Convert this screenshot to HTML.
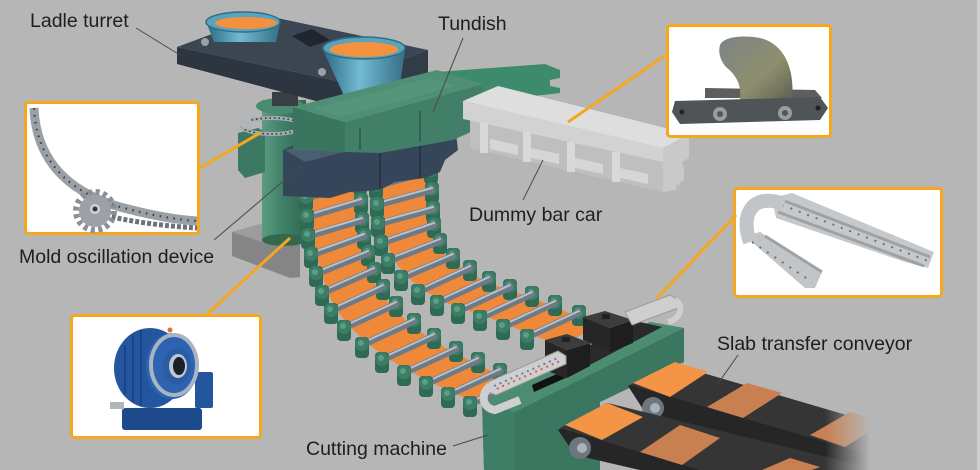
<!DOCTYPE html>
<html><head><meta charset="utf-8">
<style>
html,body{margin:0;padding:0;background:#b6b6b6;width:980px;height:470px;overflow:hidden;}
svg{display:block;overflow:hidden;}
text{font-family:"Liberation Sans",sans-serif;font-size:19.5px;fill:#1e1e1e;}
.r{stroke:#6e7a86;stroke-width:7;stroke-linecap:round;}
.h{stroke:#b8c2cc;stroke-width:2;stroke-linecap:round;}
.ld{stroke:#4a4a4a;stroke-width:1;fill:none;}
.oc{stroke:#f5a81f;stroke-width:3;fill:none;}
.bx{stroke:#f5a81f;stroke-width:3;fill:#ffffff;}
</style></head><body>
<svg width="980" height="470" viewBox="0 0 980 470" xmlns="http://www.w3.org/2000/svg">
<defs>
<linearGradient id="lg" x1="0" y1="0" x2="1" y2="0"><stop offset="0" stop-color="#2c6a83"/><stop offset=".45" stop-color="#72bad2"/><stop offset="1" stop-color="#356f86"/></linearGradient>
<linearGradient id="cg" x1="0" y1="0" x2="1" y2="0"><stop offset="0" stop-color="#5a9c82"/><stop offset=".5" stop-color="#3f7e66"/><stop offset="1" stop-color="#33684f"/></linearGradient>
<linearGradient id="fd" x1="0" y1="0" x2="1" y2="0"><stop offset="0" stop-color="#b6b6b6" stop-opacity="0"/><stop offset="1" stop-color="#b6b6b6"/></linearGradient>
<linearGradient id="fin" x1="0" y1="0" x2="1" y2="1"><stop offset="0" stop-color="#7d8386"/><stop offset=".6" stop-color="#8e8f6e"/><stop offset="1" stop-color="#5d6052"/></linearGradient>
<g id="b"><rect x="-7" y="-8" width="14" height="21" rx="4" fill="#2f6a55"/><circle cx="0" cy="-1" r="7" fill="#3d7d65"/><circle cx="-1" cy="-2" r="3" fill="#5a9e84"/></g>
</defs>
<rect width="980" height="470" fill="#b6b6b6"/>
<rect x="977" y="0" width="3" height="470" fill="#cdcdcd"/>

<!-- green arm -->
<polygon points="437,72 545,64 560,70 560,78 550,80 550,86 560,88 560,93 482,102 482,84" fill="#3e8a6c"/>

<!-- base slab -->
<polygon points="232,232 268,222 300,232 300,277 290,278 232,256" fill="#858585"/>
<polygon points="232,232 268,222 300,232 262,242" fill="#9c9c9c"/>

<!-- column -->
<rect x="262" y="100" width="44" height="140" fill="url(#cg)"/>
<ellipse cx="284" cy="240" rx="22" ry="6" fill="#33684f"/>
<polygon points="238,133 258,128 265,132 265,172 245,178 238,170" fill="#3c7862"/>
<ellipse cx="280" cy="106" rx="24" ry="8" fill="#4a8a70"/>
<rect x="272" y="92" width="26" height="14" fill="#3a3f45"/>
<ellipse cx="272" cy="126" rx="30" ry="8" fill="none" stroke="#a3a9ae" stroke-width="4"/>
<ellipse cx="272" cy="126" rx="30" ry="8" fill="none" stroke="#333" stroke-width="1.5" stroke-dasharray="1.5 3"/>
<circle cx="246" cy="123" r="6" fill="#b0b5ba"/>

<!-- ladle turret block -->
<polygon points="177,47 342,82 342,108 177,64" fill="#2c3540"/>
<polygon points="342,82 428,50 428,76 342,108" fill="#323c47"/>
<polygon points="177,47 263,15 428,50 342,82" fill="#3b4652"/>
<polygon points="292,36 312,29 330,40 310,47" fill="#1f262d"/>
<circle cx="205" cy="42" r="4" fill="#9aa0a6"/>
<circle cx="322" cy="72" r="4" fill="#9aa0a6"/>
<!-- ladle 1 -->
<path d="M207,24 L214,42 L276,42 L280,24 Z" fill="url(#lg)"/>
<ellipse cx="243" cy="22" rx="37" ry="10" fill="#5aa3bd" stroke="#2f6f88" stroke-width="1.5"/>
<ellipse cx="246" cy="23" rx="31" ry="6" fill="#f5913e"/>
<!-- ladle 2 -->
<path d="M323,50 L345,98 L398,98 L405,50 Z" fill="url(#lg)"/>
<ellipse cx="364" cy="48" rx="41" ry="11" fill="#5aa3bd" stroke="#2f6f88" stroke-width="1.5"/>
<ellipse cx="364" cy="49.5" rx="34" ry="7.5" fill="#f5913e"/>

<!-- strand B slab -->
<polygon points="381,172 381,184 382,203 383,222 386,241 393,259 406,276 423,290 442,301 463,309 485,316 508,325 532,335 560,345 600,326 574,315 550,305 527,296 505,289 484,281 465,270 448,258 435,243 429,226 427,210 426,191 425,172 425,160" fill="#f0883a"/>
<g>
<use href="#b" x="431" y="171"/><line class="r" x1="376" y1="186" x2="431" y2="171"/><line class="h" x1="376" y1="184" x2="431" y2="169"/><use href="#b" x="376" y="186"/>
<use href="#b" x="432" y="190"/><line class="r" x1="377" y1="205" x2="432" y2="190"/><line class="h" x1="377" y1="203" x2="432" y2="188"/><use href="#b" x="377" y="205"/>
<use href="#b" x="433" y="209"/><line class="r" x1="378" y1="224" x2="433" y2="209"/><line class="h" x1="378" y1="222" x2="433" y2="207"/><use href="#b" x="378" y="224"/>
<use href="#b" x="434" y="225"/><line class="r" x1="381" y1="243" x2="434" y2="225"/><line class="h" x1="381" y1="241" x2="434" y2="223"/><use href="#b" x="381" y="243"/>
<use href="#b" x="440" y="241"/><line class="r" x1="388" y1="261" x2="440" y2="241"/><line class="h" x1="388" y1="259" x2="440" y2="239"/><use href="#b" x="388" y="261"/>
<use href="#b" x="453" y="256"/><line class="r" x1="401" y1="278" x2="453" y2="256"/><line class="h" x1="401" y1="276" x2="453" y2="254"/><use href="#b" x="401" y="278"/>
<use href="#b" x="470" y="268"/><line class="r" x1="418" y1="292" x2="470" y2="268"/><line class="h" x1="418" y1="290" x2="470" y2="266"/><use href="#b" x="418" y="292"/>
<use href="#b" x="489" y="279"/><line class="r" x1="437" y1="303" x2="489" y2="279"/><line class="h" x1="437" y1="301" x2="489" y2="277"/><use href="#b" x="437" y="303"/>
<use href="#b" x="510" y="287"/><line class="r" x1="458" y1="311" x2="510" y2="287"/><line class="h" x1="458" y1="309" x2="510" y2="285"/><use href="#b" x="458" y="311"/>
<use href="#b" x="532" y="294"/><line class="r" x1="480" y1="318" x2="532" y2="294"/><line class="h" x1="480" y1="316" x2="532" y2="292"/><use href="#b" x="480" y="318"/>
<use href="#b" x="555" y="303"/><line class="r" x1="503" y1="327" x2="555" y2="303"/><line class="h" x1="503" y1="325" x2="555" y2="301"/><use href="#b" x="503" y="327"/>
<use href="#b" x="579" y="313"/><line class="r" x1="527" y1="337" x2="579" y2="313"/><line class="h" x1="527" y1="335" x2="579" y2="311"/><use href="#b" x="527" y="337"/>
</g>

<!-- strand A slab -->
<polygon points="311,186 311,196 312,215 313,234 316,253 321,272 327,291 336,309 349,326 367,343 387,358 409,371 431,382 453,393 475,402 495,410 530,385 517,382 495,373 473,362 451,351 429,338 409,323 391,306 378,289 369,272 363,255 359,238 357,222 356,203 355,184 355,172" fill="#f0883a"/>
<g>
<use href="#b" x="360" y="182"/><line class="r" x1="306" y1="198" x2="360" y2="182"/><line class="h" x1="306" y1="196" x2="360" y2="180"/><use href="#b" x="306" y="198"/>
<use href="#b" x="361" y="201"/><line class="r" x1="307" y1="217" x2="361" y2="201"/><line class="h" x1="307" y1="215" x2="361" y2="199"/><use href="#b" x="307" y="217"/>
<use href="#b" x="362" y="220"/><line class="r" x1="308" y1="236" x2="362" y2="220"/><line class="h" x1="308" y1="234" x2="362" y2="218"/><use href="#b" x="308" y="236"/>
<use href="#b" x="364" y="236"/><line class="r" x1="311" y1="255" x2="364" y2="236"/><line class="h" x1="311" y1="253" x2="364" y2="234"/><use href="#b" x="311" y="255"/>
<use href="#b" x="368" y="253"/><line class="r" x1="316" y1="274" x2="368" y2="253"/><line class="h" x1="316" y1="272" x2="368" y2="251"/><use href="#b" x="316" y="274"/>
<use href="#b" x="374" y="270"/><line class="r" x1="322" y1="293" x2="374" y2="270"/><line class="h" x1="322" y1="291" x2="374" y2="268"/><use href="#b" x="322" y="293"/>
<use href="#b" x="383" y="287"/><line class="r" x1="331" y1="311" x2="383" y2="287"/><line class="h" x1="331" y1="309" x2="383" y2="285"/><use href="#b" x="331" y="311"/>
<use href="#b" x="396" y="304"/><line class="r" x1="344" y1="328" x2="396" y2="304"/><line class="h" x1="344" y1="326" x2="396" y2="302"/><use href="#b" x="344" y="328"/>
<use href="#b" x="414" y="321"/><line class="r" x1="362" y1="345" x2="414" y2="321"/><line class="h" x1="362" y1="343" x2="414" y2="319"/><use href="#b" x="362" y="345"/>
<use href="#b" x="434" y="336"/><line class="r" x1="382" y1="360" x2="434" y2="336"/><line class="h" x1="382" y1="358" x2="434" y2="334"/><use href="#b" x="382" y="360"/>
<use href="#b" x="456" y="349"/><line class="r" x1="404" y1="373" x2="456" y2="349"/><line class="h" x1="404" y1="371" x2="456" y2="347"/><use href="#b" x="404" y="373"/>
<use href="#b" x="478" y="360"/><line class="r" x1="426" y1="384" x2="478" y2="360"/><line class="h" x1="426" y1="382" x2="478" y2="358"/><use href="#b" x="426" y="384"/>
<use href="#b" x="500" y="371"/><line class="r" x1="448" y1="395" x2="500" y2="371"/><line class="h" x1="448" y1="393" x2="500" y2="369"/><use href="#b" x="448" y="395"/>
<use href="#b" x="522" y="380"/><line class="r" x1="470" y1="404" x2="522" y2="380"/><line class="h" x1="470" y1="402" x2="522" y2="378"/><use href="#b" x="470" y="404"/>
</g>

<!-- mold -->
<polygon points="283,150 300,142 380,130 455,125 458,150 445,160 440,172 425,178 395,182 380,190 350,192 330,198 283,196" fill="#36465a"/>
<polygon points="285,150 320,141 345,152 305,162" fill="#4a5d73"/>
<line x1="380" y1="140" x2="380" y2="188" stroke="#283444" stroke-width="2"/>
<line x1="420" y1="135" x2="420" y2="178" stroke="#283444" stroke-width="2"/>

<!-- tundish -->
<polygon points="293,107 345,122 345,152 293,150" fill="#3a7560"/>
<polygon points="345,122 482,84 482,127 453,140 380,153 345,152" fill="#427f68"/>
<polygon points="293,107 437,70 482,84 345,122" fill="#4f8f76"/>
<polygon points="315,108 430,78 455,86 340,117" fill="#5a9a80" opacity=".6"/>
<line x1="360" y1="128" x2="360" y2="150" stroke="#2f6350" stroke-width="2"/>
<line x1="420" y1="111" x2="420" y2="142" stroke="#2f6350" stroke-width="2"/>

<!-- dummy bar car -->
<polygon points="470,119 663,162 680,160 680,186 663,192 470,148" fill="#bfbfbf"/>
<polygon points="463,101 663,148 663,162 463,119" fill="#d2d2d2"/>
<polygon points="463,101 498,86 689,134 663,148" fill="#dedede"/>
<polygon points="663,148 689,134 689,158 682,162 684,168 684,180 676,185 676,190 663,192" fill="#c9c9c9"/>
<rect x="480" y="123" width="8" height="30" fill="#d9d9d9"/>
<rect x="523" y="132" width="8" height="30" fill="#d9d9d9"/>
<rect x="567" y="142" width="8" height="30" fill="#d9d9d9"/>
<rect x="612" y="152" width="8" height="30" fill="#d9d9d9"/>
<polygon points="490,139 518,145 518,155 490,149" fill="#d6d6d6"/>
<polygon points="531,148 559,154 559,164 531,158" fill="#d6d6d6"/>
<polygon points="575,158 603,164 603,174 575,168" fill="#d6d6d6"/>
<polygon points="620,168 648,174 648,184 620,178" fill="#d6d6d6"/>

<!-- cutting machine -->
<polygon points="482,402 650,322 684,328 684,362 600,402 600,470 484,470" fill="#3b7760"/>
<polygon points="482,402 515,412 515,470 484,470" fill="#3f7e66"/>
<polygon points="482,402 650,322 684,328 515,412" fill="#4c8d72"/>
<polygon points="532,385 568,369 570,376 534,392" fill="#111"/>
<polygon points="540,368 640,322 662,327 565,378" fill="#2a2a2a"/>
<polygon points="583,317 610,328 610,352 583,340" fill="#262626"/>
<polygon points="610,328 633,320 633,343 610,352" fill="#1e1e1e"/>
<polygon points="583,317 605,311 633,320 610,328" fill="#3c3c3c"/>
<rect x="602" y="314" width="8" height="5" fill="#222"/>
<polygon points="545,340 567,350 567,378 545,366" fill="#262626"/>
<polygon points="567,350 590,343 590,366 567,378" fill="#1e1e1e"/>
<polygon points="545,340 567,334 590,343 567,350" fill="#3c3c3c"/>
<rect x="562" y="337" width="8" height="5" fill="#222"/>
<polygon points="488,382 558,351 566,356 566,364 496,395 488,392" fill="#cfcfcf" stroke="#9a9a9a" stroke-width="1"/>
<path d="M490,386 C480,394 482,408 495,410 L520,400" stroke="#cfcfcf" stroke-width="8" fill="none"/>
<line x1="494" y1="386" x2="560" y2="357" stroke="#5a7fc0" stroke-width="2" stroke-dasharray="2 4"/>
<line x1="494" y1="390" x2="560" y2="361" stroke="#d06050" stroke-width="2" stroke-dasharray="2 4" stroke-dashoffset="3"/>
<polygon points="625,312 670,295 678,300 678,308 632,325" fill="#cfcfcf" stroke="#9a9a9a" stroke-width="1"/>
<path d="M675,300 C684,305 682,318 668,322" stroke="#cfcfcf" stroke-width="6" fill="none"/>

<!-- conveyor belts -->
<polygon points="628,386 672,364 880,425 880,470 690,440 650,420" fill="#262626"/>
<polygon points="630,385 672,364 880,425 880,458" fill="#353535"/>
<circle cx="653" cy="408" r="11" fill="#6d7780"/><circle cx="655" cy="408" r="5" fill="#aab2ba"/>
<polygon points="633,383 675,362 708,372 670,397" fill="#f39447"/>
<polygon points="707,407 747,383 782,393 743,418" fill="#c98050"/>
<polygon points="810,435 850,412 885,422 845,447" fill="#c98050"/>
<polygon points="558,430 607,403 880,470 640,470 575,455" fill="#262626"/>
<polygon points="560,428 607,403 880,470 700,470" fill="#353535"/>
<circle cx="580" cy="448" r="11" fill="#6d7780"/><circle cx="582" cy="448" r="5" fill="#aab2ba"/>
<polygon points="565,425 607,403 643,417 602,440" fill="#f39447"/>
<polygon points="640,452 680,425 720,438 682,465" fill="#c98050"/>
<polygon points="762,470 790,458 820,467 812,470" fill="#c98050"/>
<rect x="825" y="360" width="45" height="110" fill="url(#fd)"/>
<rect x="869" y="360" width="108" height="110" fill="#b6b6b6"/>

<!-- inset 1: ring gear -->
<rect class="bx" x="25.5" y="102.5" width="173" height="131" rx="3"/>
<path d="M34,108 C36,155 62,190 120,207 C150,215 178,220 197,221" stroke="#9aa0a6" stroke-width="9" fill="none"/>
<path d="M34,108 C36,155 62,190 120,207 C150,215 178,220 197,221" stroke="#3c3c3c" stroke-width="2.2" fill="none" stroke-dasharray="1.5 5.5"/>
<path d="M100,214 C130,222 165,226 197,228" stroke="#6d7278" stroke-width="5" fill="none" stroke-dasharray="4 2"/>
<circle cx="95" cy="211" r="19" fill="none" stroke="#8a9096" stroke-width="6" stroke-dasharray="4 3.5"/>
<circle cx="95" cy="211" r="16" fill="#9ba1a7"/>
<circle cx="95" cy="209" r="5" fill="#d0d4d8"/>
<circle cx="95" cy="209" r="2.5" fill="#333"/>

<!-- inset 2: dummy bar link -->
<rect class="bx" x="667.5" y="25.5" width="163" height="111" rx="3"/>
<polygon points="705,88 815,90 822,98 705,98" fill="#5b5f60"/>
<path d="M720,45 C724,36 745,35 760,38 C785,44 795,70 792,100 L740,100 C742,85 736,75 726,67 C720,60 718,52 720,45 Z" fill="url(#fin)"/>
<polygon points="675,101 820,97 828,108 820,120 680,124 672,112" fill="#4f5457"/>
<circle cx="720" cy="114" r="7" fill="#9a9d9f"/><circle cx="720" cy="114" r="3" fill="#555"/>
<circle cx="785" cy="113" r="7" fill="#9a9d9f"/><circle cx="785" cy="113" r="3" fill="#555"/>
<circle cx="682" cy="112" r="2.5" fill="#222"/><circle cx="818" cy="108" r="2.5" fill="#222"/>

<!-- inset 3: drag chain -->
<rect class="bx" x="734.5" y="188.5" width="207" height="108" rx="3"/>
<polygon points="772,198 792,193 934,252 928,268 905,262 776,218" fill="#c6c9cc"/>
<line x1="782" y1="200" x2="930" y2="257" stroke="#9ea2a6" stroke-width="3"/>
<line x1="778" y1="212" x2="924" y2="266" stroke="#9ea2a6" stroke-width="3"/>
<line x1="782" y1="205" x2="928" y2="261" stroke="#6d7276" stroke-width="2" stroke-dasharray="2 7"/>
<path d="M784,204 C752,192 740,215 750,242" stroke="#c2c5c8" stroke-width="14" fill="none"/>
<polygon points="745,236 760,232 822,272 815,288 805,288" fill="#c2c5c8"/>
<line x1="752" y1="242" x2="812" y2="282" stroke="#6d7276" stroke-width="2" stroke-dasharray="2 7"/>
<line x1="765" y1="236" x2="822" y2="272" stroke="#9ea2a6" stroke-width="3"/>

<!-- inset 4: gearbox -->
<rect class="bx" x="71.5" y="315.5" width="189" height="122" rx="3"/>
<rect x="122" y="408" width="80" height="22" rx="3" fill="#1d4a8c"/>
<ellipse cx="150" cy="368" rx="36" ry="40" fill="#2456a0"/>
<line x1="125" y1="345" x2="125" y2="395" stroke="#1b4485" stroke-width="2"/>
<line x1="133" y1="335" x2="133" y2="402" stroke="#1b4485" stroke-width="2"/>
<line x1="141" y1="330" x2="141" y2="405" stroke="#1b4485" stroke-width="2"/>
<rect x="195" y="372" width="18" height="36" rx="2" fill="#2456a0"/>
<ellipse cx="172" cy="366" rx="26" ry="33" fill="#2d63b0"/>
<ellipse cx="174" cy="365" rx="23" ry="30" fill="none" stroke="#a9b4c2" stroke-width="4"/>
<ellipse cx="177" cy="366" rx="14" ry="18" fill="#2a5ca5"/>
<ellipse cx="178" cy="366" rx="9" ry="12" fill="#c0c8d0"/>
<ellipse cx="179" cy="366" rx="6" ry="9" fill="#1a1f2a"/>
<rect x="110" y="402" width="14" height="7" fill="#b0b6bc"/>
<circle cx="170" cy="330" r="2.5" fill="#e07030"/>

<!-- orange connectors -->
<line class="oc" x1="200" y1="168" x2="260" y2="133"/>
<line class="oc" x1="666" y1="55" x2="568" y2="122"/>
<line class="oc" x1="736" y1="215" x2="657" y2="298"/>
<line class="oc" x1="207" y1="314" x2="290" y2="238"/>

<!-- leader lines -->
<line class="ld" x1="136" y1="28" x2="180" y2="55"/>
<line class="ld" x1="463" y1="38" x2="433" y2="112"/>
<line class="ld" x1="523" y1="200" x2="543" y2="160"/>
<line class="ld" x1="214" y1="240" x2="300" y2="167"/>
<line class="ld" x1="453" y1="446" x2="488" y2="435"/>
<line class="ld" x1="738" y1="355" x2="717" y2="385"/>

<!-- labels -->
<text x="30" y="27">Ladle turret</text>
<text x="438" y="30">Tundish</text>
<text x="469" y="221">Dummy bar car</text>
<text x="19" y="263">Mold oscillation device</text>
<text x="306" y="455">Cutting machine</text>
<text x="717" y="350">Slab transfer conveyor</text>
</svg>
</body></html>
